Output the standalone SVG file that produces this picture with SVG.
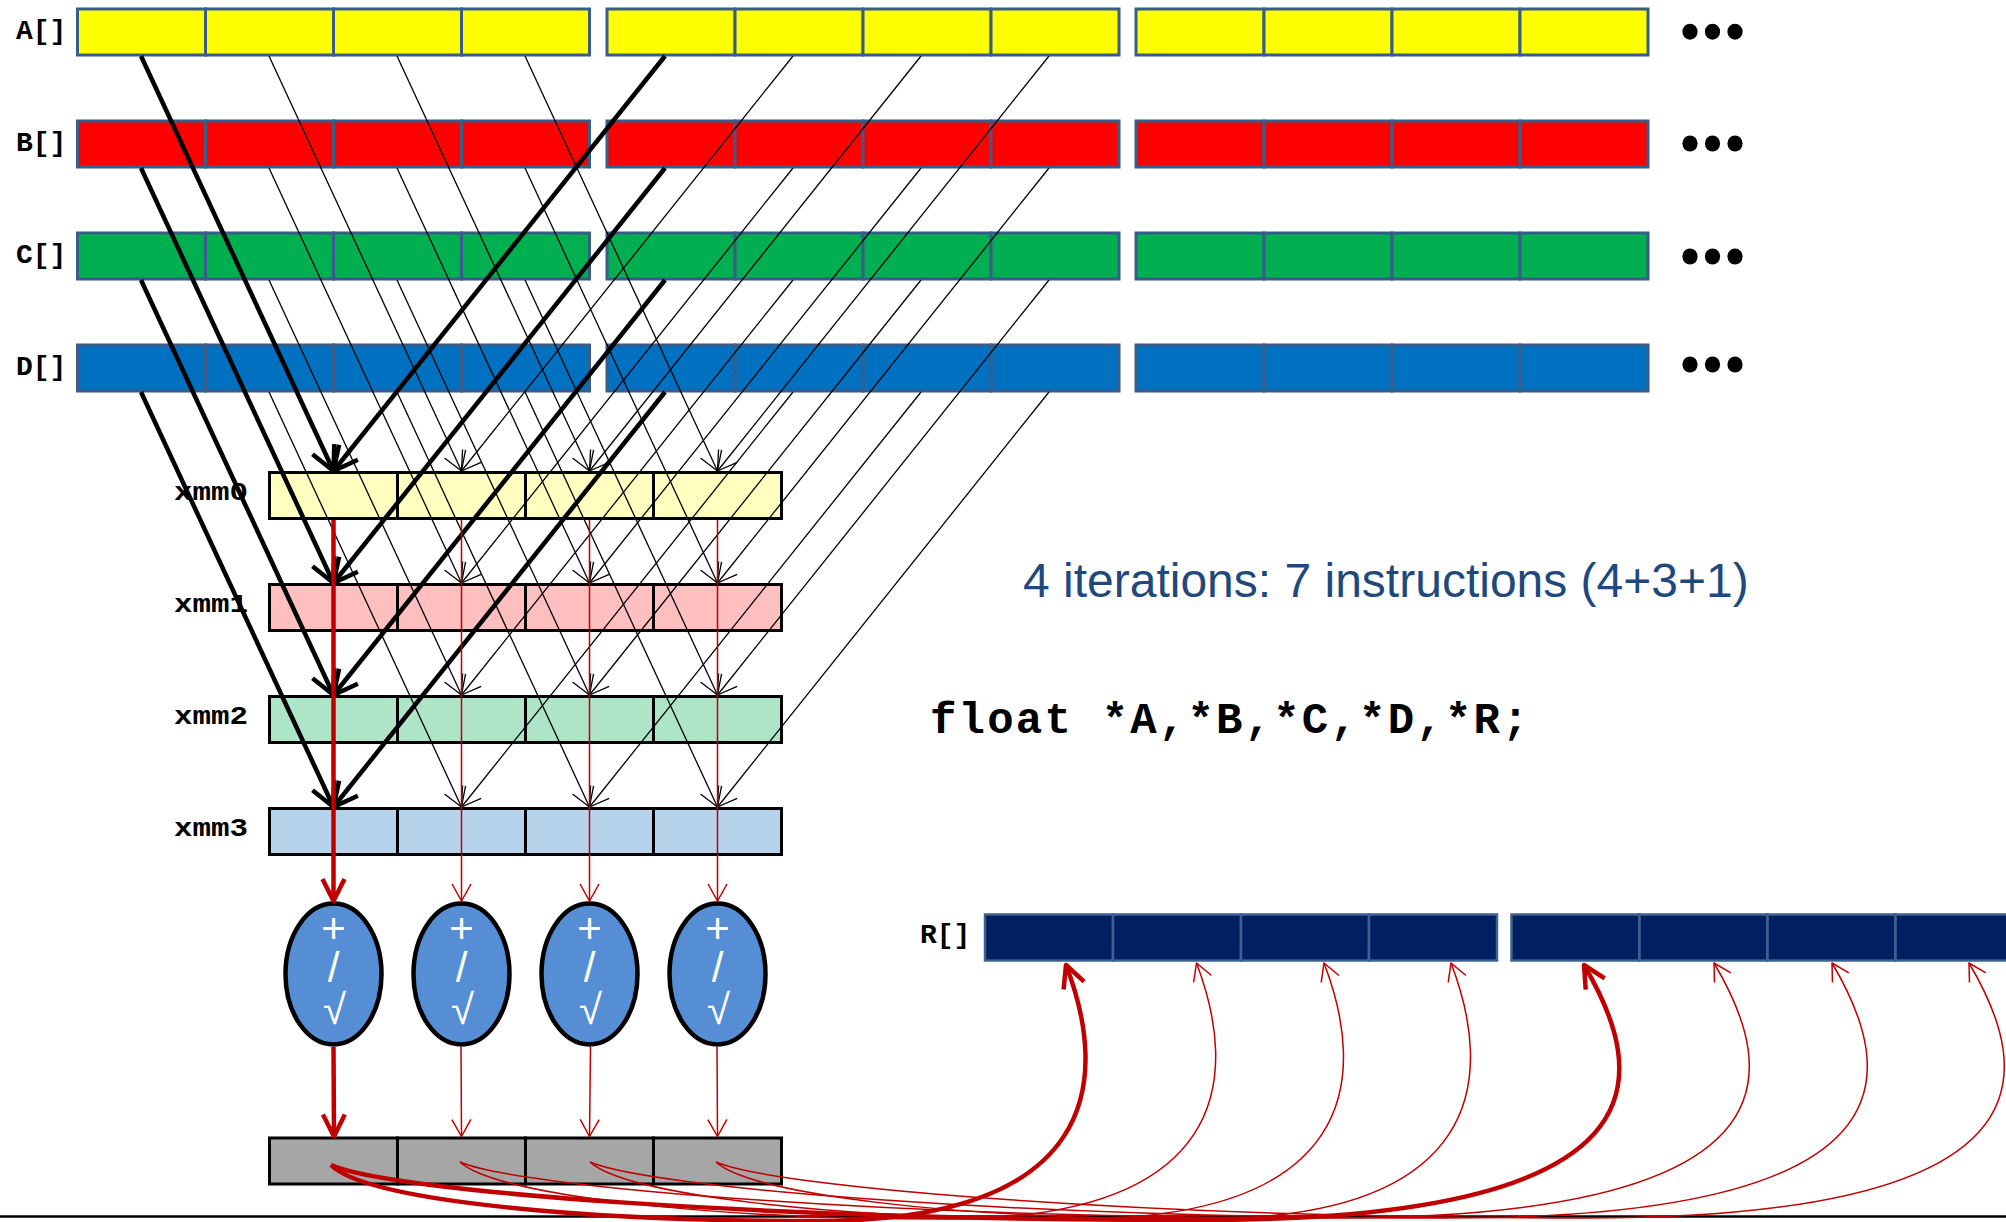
<svg xmlns="http://www.w3.org/2000/svg" width="2006" height="1222" viewBox="0 0 2006 1222">
  <style>
    .arrA { fill: #FFFF00; stroke: #385D8A; stroke-width: 3; }
    .arrB { fill: #FF0000; stroke: #385D8A; stroke-width: 3; }
    .arrC { fill: #00B050; stroke: #385D8A; stroke-width: 3; }
    .arrD { fill: #0070C0; stroke: #385D8A; stroke-width: 3; }
    .arrR { fill: #002060; stroke: #3D6190; stroke-width: 2.5; }
    .reg  { stroke: #000; stroke-width: 3; }
    .x0 { fill: #FFFFC0; }
    .x1 { fill: #FFBFBF; }
    .x2 { fill: #AEE4C8; }
    .x3 { fill: #B5D4EB; }
    .res { fill: #A6A6A6; stroke: #000; stroke-width: 3; }
    .alu { fill: #558ED5; stroke: #000; stroke-width: 4.5; }
    .op  { font-family: "Liberation Sans", Arial, sans-serif; font-size: 42px; fill: #FFFFFF; text-anchor: middle; }
    .lbl { font-family: "Liberation Mono", "Courier New", monospace; font-weight: bold; font-size: 28px; fill: #000; }
    .xl  { font-family: "Liberation Mono", "Courier New", monospace; font-weight: bold; font-size: 25px; fill: #000; }
    .dot { fill: #000; }
    .blk { stroke: #000; fill: none; }
    .blk.thin { stroke-width: 1.3; marker-end: url(#ahBlackThin); }
    .blk.thick { stroke-width: 4.5; marker-end: url(#ahBlackThick); }
    .red { stroke: #C00000; fill: none; }
    .red.thin { stroke-width: 1.5; marker-end: url(#ahRedThin); }
    .red.thick { stroke-width: 4.5; marker-end: url(#ahRedThick); }
  </style>
  <defs>
    <!-- four-element vector slot strip; fill/stroke come from the <use> -->
    <g id="cells4">
      <rect x="0" y="0" width="128" height="46"/>
      <rect x="128" y="0" width="128" height="46"/>
      <rect x="256" y="0" width="128" height="46"/>
      <rect x="384" y="0" width="128" height="46"/>
    </g>
    <marker id="ahBlackThin" markerUnits="userSpaceOnUse" viewBox="-30 -20 40 40" markerWidth="40" markerHeight="40" refX="0" refY="0" orient="auto">
      <path d="M-19,-10 L0,0 L-19,10" fill="none" stroke="#000" stroke-width="1.3" stroke-linejoin="round"/>
    </marker>
    <marker id="ahBlackThick" markerUnits="userSpaceOnUse" viewBox="-30 -20 40 40" markerWidth="40" markerHeight="40" refX="0" refY="0" orient="auto">
      <path d="M-24,-12 L0,0 L-24,12" fill="none" stroke="#000" stroke-width="4.5" stroke-linejoin="round"/>
    </marker>
    <marker id="ahRedThin" markerUnits="userSpaceOnUse" viewBox="-30 -20 40 40" markerWidth="40" markerHeight="40" refX="0" refY="0" orient="auto">
      <path d="M-17,-9.5 L0,0 L-17,9.5" fill="none" stroke="#C00000" stroke-width="1.5" stroke-linejoin="round"/>
    </marker>
    <marker id="ahRedThick" markerUnits="userSpaceOnUse" viewBox="-30 -20 40 40" markerWidth="40" markerHeight="40" refX="0" refY="0" orient="auto">
      <path d="M-22,-11 L0,0 L-22,11" fill="none" stroke="#C00000" stroke-width="4.5" stroke-linejoin="round"/>
    </marker>
  </defs>

  <rect x="0" y="0" width="2006" height="1222" fill="#FFFFFF"/>

  <!-- input arrays -->
  <g id="array-A">
    <text class="lbl" x="16" y="39">A[]</text>
    <use href="#cells4" class="arrA" x="77.5" y="9"/>
    <use href="#cells4" class="arrA" x="607" y="9"/>
    <use href="#cells4" class="arrA" x="1136" y="9"/>
    <ellipse class="dot" cx="1690" cy="31.7" rx="7.6" ry="8"/>
    <ellipse class="dot" cx="1712.5" cy="31.7" rx="7.6" ry="8"/>
    <ellipse class="dot" cx="1735" cy="31.7" rx="7.6" ry="8"/>
  </g>
  <g id="array-B">
    <text class="lbl" x="16" y="151">B[]</text>
    <use href="#cells4" class="arrB" x="77.5" y="121"/>
    <use href="#cells4" class="arrB" x="607" y="121"/>
    <use href="#cells4" class="arrB" x="1136" y="121"/>
    <ellipse class="dot" cx="1690" cy="143.5" rx="7.6" ry="8"/>
    <ellipse class="dot" cx="1712.5" cy="143.5" rx="7.6" ry="8"/>
    <ellipse class="dot" cx="1735" cy="143.5" rx="7.6" ry="8"/>
  </g>
  <g id="array-C">
    <text class="lbl" x="16" y="263">C[]</text>
    <use href="#cells4" class="arrC" x="77.5" y="233"/>
    <use href="#cells4" class="arrC" x="607" y="233"/>
    <use href="#cells4" class="arrC" x="1136" y="233"/>
    <ellipse class="dot" cx="1690" cy="256.5" rx="7.6" ry="8"/>
    <ellipse class="dot" cx="1712.5" cy="256.5" rx="7.6" ry="8"/>
    <ellipse class="dot" cx="1735" cy="256.5" rx="7.6" ry="8"/>
  </g>
  <g id="array-D">
    <text class="lbl" x="16" y="375">D[]</text>
    <use href="#cells4" class="arrD" x="77.5" y="345"/>
    <use href="#cells4" class="arrD" x="607" y="345"/>
    <use href="#cells4" class="arrD" x="1136" y="345"/>
    <ellipse class="dot" cx="1690" cy="364.5" rx="7.6" ry="8"/>
    <ellipse class="dot" cx="1712.5" cy="364.5" rx="7.6" ry="8"/>
    <ellipse class="dot" cx="1735" cy="364.5" rx="7.6" ry="8"/>
  </g>

  <!-- SSE registers -->
  <g id="xmm0">
    <text class="xl" x="174" y="499.5" textLength="74" lengthAdjust="spacingAndGlyphs">xmm0</text>
    <use href="#cells4" class="reg x0" x="269.5" y="472.5"/>
  </g>
  <g id="xmm1">
    <text class="xl" x="174" y="611.5" textLength="74" lengthAdjust="spacingAndGlyphs">xmm1</text>
    <use href="#cells4" class="reg x1" x="269.5" y="584.5"/>
  </g>
  <g id="xmm2">
    <text class="xl" x="174" y="723.5" textLength="74" lengthAdjust="spacingAndGlyphs">xmm2</text>
    <use href="#cells4" class="reg x2" x="269.5" y="696.5"/>
  </g>
  <g id="xmm3">
    <text class="xl" x="174" y="835.5" textLength="74" lengthAdjust="spacingAndGlyphs">xmm3</text>
    <use href="#cells4" class="reg x3" x="269.5" y="808.5"/>
  </g>

  <!-- arithmetic units: add / divide / square root -->
  <g id="alu0">
    <ellipse class="alu" cx="333.5" cy="974" rx="48" ry="70.5"/>
    <text class="op"><tspan x="333.5" y="943">+</tspan><tspan x="333.5" y="982">/</tspan><tspan x="334.5" y="1024">√</tspan></text>
  </g>
  <g id="alu1">
    <ellipse class="alu" cx="461.5" cy="974" rx="48" ry="70.5"/>
    <text class="op"><tspan x="461.5" y="943">+</tspan><tspan x="461.5" y="982">/</tspan><tspan x="462.5" y="1024">√</tspan></text>
  </g>
  <g id="alu2">
    <ellipse class="alu" cx="589.5" cy="974" rx="48" ry="70.5"/>
    <text class="op"><tspan x="589.5" y="943">+</tspan><tspan x="589.5" y="982">/</tspan><tspan x="590.5" y="1024">√</tspan></text>
  </g>
  <g id="alu3">
    <ellipse class="alu" cx="717.5" cy="974" rx="48" ry="70.5"/>
    <text class="op"><tspan x="717.5" y="943">+</tspan><tspan x="717.5" y="982">/</tspan><tspan x="718.5" y="1024">√</tspan></text>
  </g>

  <!-- result register -->
  <g id="result-reg">
    <use href="#cells4" class="res" x="269.5" y="1138"/>
  </g>

  <!-- output array -->
  <g id="array-R">
    <text class="lbl" x="920" y="943">R[]</text>
    <use href="#cells4" class="arrR" x="985" y="914.5"/>
    <use href="#cells4" class="arrR" x="1511.5" y="914.5"/>
  </g>

  <g id="caption">
    <text x="1023" y="597" font-family="'Liberation Sans', Arial, sans-serif" font-size="48" fill="#1F497D">4 iterations: 7 instructions (4+3+1)</text>
  </g>
  <g id="declaration">
    <text x="930" y="733" font-family="'Liberation Mono', 'Courier New', monospace" font-weight="bold" font-size="44" letter-spacing="2.2" fill="#000">float *A,*B,*C,*D,*R;</text>
  </g>

  <g id="baseline">
    <line x1="0" y1="1216.5" x2="2006" y2="1216.5" stroke="#000" stroke-width="2.5"/>
  </g>

  <g id="connectors">
    <!-- loads: first block of each array -> register lanes -->
    <line class="blk thick" x1="141" y1="56" x2="333.5" y2="471"/>
    <line class="blk thin" x1="269" y1="56" x2="461.5" y2="471"/>
    <line class="blk thin" x1="397" y1="56" x2="589.5" y2="471"/>
    <line class="blk thin" x1="525" y1="56" x2="717.5" y2="471"/>
    <line class="blk thick" x1="141" y1="168" x2="333.5" y2="583"/>
    <line class="blk thin" x1="269" y1="168" x2="461.5" y2="583"/>
    <line class="blk thin" x1="397" y1="168" x2="589.5" y2="583"/>
    <line class="blk thin" x1="525" y1="168" x2="717.5" y2="583"/>
    <line class="blk thick" x1="141" y1="280" x2="333.5" y2="695"/>
    <line class="blk thin" x1="269" y1="280" x2="461.5" y2="695"/>
    <line class="blk thin" x1="397" y1="280" x2="589.5" y2="695"/>
    <line class="blk thin" x1="525" y1="280" x2="717.5" y2="695"/>
    <line class="blk thick" x1="141" y1="392" x2="333.5" y2="807"/>
    <line class="blk thin" x1="269" y1="392" x2="461.5" y2="807"/>
    <line class="blk thin" x1="397" y1="392" x2="589.5" y2="807"/>
    <line class="blk thin" x1="525" y1="392" x2="717.5" y2="807"/>
    <!-- loads: second block of each array -> register lanes -->
    <line class="blk thick" x1="665" y1="56" x2="333.5" y2="471"/>
    <line class="blk thin" x1="793" y1="56" x2="461.5" y2="471"/>
    <line class="blk thin" x1="921" y1="56" x2="589.5" y2="471"/>
    <line class="blk thin" x1="1049" y1="56" x2="717.5" y2="471"/>
    <line class="blk thick" x1="665" y1="168" x2="333.5" y2="583"/>
    <line class="blk thin" x1="793" y1="168" x2="461.5" y2="583"/>
    <line class="blk thin" x1="921" y1="168" x2="589.5" y2="583"/>
    <line class="blk thin" x1="1049" y1="168" x2="717.5" y2="583"/>
    <line class="blk thick" x1="665" y1="280" x2="333.5" y2="695"/>
    <line class="blk thin" x1="793" y1="280" x2="461.5" y2="695"/>
    <line class="blk thin" x1="921" y1="280" x2="589.5" y2="695"/>
    <line class="blk thin" x1="1049" y1="280" x2="717.5" y2="695"/>
    <line class="blk thick" x1="665" y1="392" x2="333.5" y2="807"/>
    <line class="blk thin" x1="793" y1="392" x2="461.5" y2="807"/>
    <line class="blk thin" x1="921" y1="392" x2="589.5" y2="807"/>
    <line class="blk thin" x1="1049" y1="392" x2="717.5" y2="807"/>

    <!-- register lanes -> arithmetic units -->
    <line class="red thick" x1="333.5" y1="520" x2="333.5" y2="901"/>
    <line class="red thin" x1="461.5" y1="520" x2="461.5" y2="901"/>
    <line class="red thin" x1="589.5" y1="520" x2="589.5" y2="901"/>
    <line class="red thin" x1="717.5" y1="520" x2="717.5" y2="901"/>

    <!-- arithmetic units -> result register -->
    <line class="red thick" x1="333.5" y1="1047" x2="334" y2="1136.5"/>
    <line class="red thin" x1="461" y1="1047" x2="461.5" y2="1136.5"/>
    <line class="red thin" x1="590.5" y1="1047" x2="589.5" y2="1136.5"/>
    <line class="red thin" x1="717" y1="1047" x2="717.5" y2="1136.5"/>

    <!-- stores: result lanes -> R[] -->
    <path class="red thick" d="M331,1165 C366,1200 573.5,1221 816,1221 C1100,1221 1110,1080 1066,965"/>
    <path class="red thick" d="M331,1165 C391,1192 765.5,1220 1200,1220 C1674,1220 1649,1075 1584,965"/>
    <path class="red thin" d="M460,1162 C496,1195 703,1219 946,1219 C1230,1219 1240,1078 1196.5,963"/>
    <path class="red thin" d="M460,1162 C520,1188 895,1218 1330,1218 C1804,1218 1779,1073 1714,963"/>
    <path class="red thin" d="M590,1162 C626,1195 832,1219 1074,1219 C1358,1219 1368,1078 1324,963"/>
    <path class="red thin" d="M590,1162 C650,1188 1019,1218 1448,1218 C1922,1218 1897,1073 1832,963"/>
    <path class="red thin" d="M716,1162 C752,1195 958,1219 1201,1219 C1485,1219 1495,1078 1451,963"/>
    <path class="red thin" d="M716,1162 C776,1188 1150,1218 1585,1218 C2059,1218 2034,1073 1969,963"/>
  </g>
</svg>
